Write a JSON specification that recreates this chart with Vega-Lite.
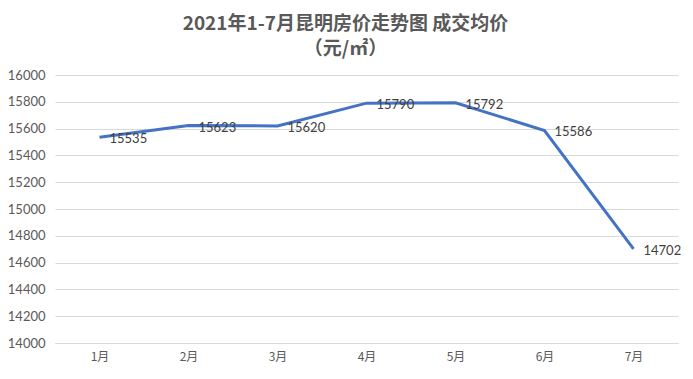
{
  "$schema": "https://vega.github.io/schema/vega-lite/v6.json",
  "width": 623,
  "height": 268,
  "autosize": {"type": "none"},
  "padding": {"left": 55, "top": 75, "right": 15, "bottom": 36},
  "background": "white",
  "config": {
    "view": {"stroke": null},
    "font": "Lato"
  },
  "title": {
    "text": ["2021年1-7月昆明房价走势图 成交均价", "（元/㎡）"],
    "font": "Noto Sans CJK SC",
    "fontSize": 19,
    "fontWeight": "bold",
    "color": "#595959",
    "lineHeight": 25,
    "anchor": "middle",
    "dx": -21,
    "offset": 10
  },
  "data": {
    "values": [
      {"month": "1月", "price": 15535},
      {"month": "2月", "price": 15623},
      {"month": "3月", "price": 15620},
      {"month": "4月", "price": 15790},
      {"month": "5月", "price": 15792},
      {"month": "6月", "price": 15586},
      {"month": "7月", "price": 14702}
    ]
  },
  "encoding": {
    "x": {
      "field": "month",
      "type": "ordinal",
      "sort": null,
      "scale": {"type": "point", "padding": 0.5},
      "axis": {
        "title": null,
        "labelAngle": 0,
        "labelFont": "Noto Sans CJK SC",
        "labelFontSize": 12,
        "labelColor": "#595959",
        "labelPadding": 8,
        "domain": true,
        "domainColor": "#d9d9d9",
        "ticks": false,
        "grid": false
      }
    },
    "y": {
      "field": "price",
      "type": "quantitative",
      "scale": {"domain": [14000, 16000], "nice": false, "zero": false},
      "axis": {
        "title": null,
        "values": [14000, 14200, 14400, 14600, 14800, 15000, 15200, 15400, 15600, 15800, 16000],
        "format": "d",
        "labelFontSize": 13,
        "labelColor": "#595959",
        "labelPadding": 10,
        "domain": false,
        "ticks": false,
        "grid": true,
        "gridColor": "#d9d9d9",
        "gridWidth": 1
      }
    }
  },
  "layer": [
    {
      "mark": {"type": "line", "color": "#4472C4", "strokeWidth": 3}
    },
    {
      "mark": {"type": "text", "align": "left", "baseline": "middle", "dx": 10, "dy": 2, "fontSize": 13, "color": "#404040"},
      "encoding": {"text": {"field": "price", "type": "quantitative", "format": "d"}}
    }
  ]
}
